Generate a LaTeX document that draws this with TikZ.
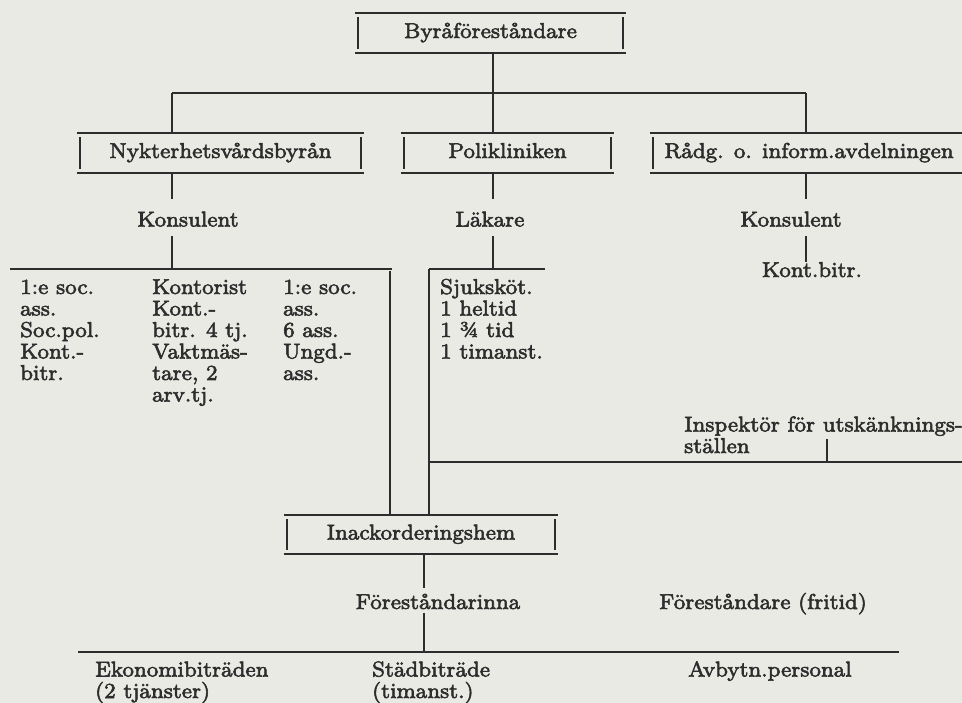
\documentclass[tikz,border=0pt]{standalone}
\usepackage{fontspec}
\setmainfont{lmroman8-regular.otf}[FakeStretch=1.01, FakeBold=2.5]
\usetikzlibrary{calc}

\definecolor{paper}{RGB}{234,234,229}
\definecolor{ink}{RGB}{45,45,45}

\tikzset{
  rule/.style={line width=1.7pt, draw=ink, line cap=butt},
  bar/.style={line width=1.9pt, draw=ink},
  unitbox/.style={inner sep=0pt, text height=12pt, text depth=2pt, text=ink,
    font=\fontsize{21.5}{21.5}\selectfont, anchor=center},
  lbl/.style={inner sep=0pt, text height=14pt, text depth=4pt, text=ink,
    font=\fontsize{21.5}{21.5}\selectfont, anchor=base},
  lblw/.style={lbl, anchor=base west},
}

% top and bottom rules across the box, short bars inside the ends
\newcommand\boxrules[1]{%
  \draw[rule] (#1.north west) -- (#1.north east)
              (#1.south west) -- (#1.south east);
  \draw[bar] ([xshift=3pt,yshift=-4pt]#1.north west) -- ([xshift=3pt,yshift=4pt]#1.south west);
  \draw[bar] ([xshift=-3pt,yshift=-4pt]#1.north east) -- ([xshift=-3pt,yshift=4pt]#1.south east);
}

\begin{document}
\begin{tikzpicture}[x=1pt,y=-1pt]
\useasboundingbox (0,0) rectangle (962,703);
\fill[paper] (0,0) rectangle (962,703);
\clip (0,0) rectangle (962,703);

% ---- head of the bureau
\node[unitbox, minimum width=271pt, minimum height=40pt] (byra) at (490.5,33) {Byråföreståndare};
\boxrules{byra}

% ---- the three units
\node[unitbox, minimum width=287pt, minimum height=40pt] (nyk) at (220.5,153) {Nykterhetsvårdsbyrån};
\node[unitbox, minimum width=213pt, minimum height=40pt] (poli) at (507.5,153) {Polikliniken};
\node[unitbox, minimum width=318pt, minimum height=40pt] (radg) at (809,153) {Rådg. o. inform.avdelningen};
\boxrules{nyk}
\boxrules{poli}
\boxrules{radg}

\coordinate (busL) at (172,93);
\coordinate (busM) at (493,93);
\coordinate (busR) at (806,93);
\draw[rule] (byra.south -| busM) -- (poli.north -| busM);
\draw[rule] (busL) -- (busR);
\draw[rule] (busL) -- (nyk.north -| busL);
\draw[rule] (busR) -- (radg.north -| busR);

% ---- Nykterhetsvårdsbyrån
\node[lbl] (konsA) at (188,226.5) {Konsulent};
\draw[rule] (nyk.south -| busL) -- ($(konsA.north -| busL)+(0,-13.5)$);
\coordinate (nykM) at (172,269);
\coordinate (nykL) at (10,269);
\coordinate (nykR) at (392,269);
\draw[rule] ($(konsA.south -| busL)+(0,5.5)$) -- (nykM);
\draw[rule] (nykL) -- (nykR);

\node[lblw] (c1a) at (20,294)   {1:e soc.};
\node[lblw] (c1b) at (20,315.5) {ass.};
\node[lblw] (c1c) at (20,337)   {Soc.pol.};
\node[lblw] (c1d) at (20,358.5) {Kont.-};
\node[lblw] (c1e) at (20,380)   {bitr.};

\node[lblw] (c2a) at (152,294)   {Kontorist};
\node[lblw] (c2b) at (152,315.5) {Kont.-};
\node[lblw] (c2c) at (152,337)   {bitr. 4 tj.};
\node[lblw] (c2d) at (152,358.5) {Vaktmäs-};
\node[lblw] (c2e) at (152,380)   {tare, 2};
\node[lblw] (c2f) at (152,401.5) {arv.tj.};

\node[lblw] (c3a) at (283,294)   {1:e soc.};
\node[lblw] (c3b) at (283,315.5) {ass.};
\node[lblw] (c3c) at (283,337)   {6 ass.};
\node[lblw] (c3d) at (283,358.5) {Ungd.-};
\node[lblw] (c3e) at (283,380)   {ass.};

% ---- Polikliniken
\node[lbl] (lak) at (490,226.5) {Läkare};
\draw[rule] (poli.south -| busM) -- ($(lak.north -| busM)+(0,-13.5)$);
\coordinate (polM) at (493,269);
\coordinate (polL) at (429,269);
\coordinate (polR) at (545,269);
\draw[rule] ($(lak.south -| busM)+(0,5.5)$) -- (polM);
\draw[rule] (polL) -- (polR);

\node[lblw] (s1) at (440,294)   {Sjuksköt.};
\node[lblw] (s2) at (440,315.5) {1 heltid};
\node[lblw] (s3) at (440,337)   {1 ¾ tid};
\node[lblw] (s4) at (440,358.5) {1 timanst.};

% ---- Rådg. o. inform.avdelningen
\node[lbl] (konsC) at (791,226.5) {Konsulent};
\node[lbl] (kontb) at (812,277) {Kont.bitr.};
\draw[rule] (radg.south -| busR) -- ($(konsC.north -| busR)+(0,-13.5)$);
\draw[rule] ($(konsC.south -| busR)+(0,5.5)$) -- ($(kontb.north -| busR)+(0,-1)$);

% ---- inspector of licensed premises
\node[lblw] (insp) at (684,431.5) {Inspektör för utskänknings-};
\node[lblw] (insp2) at (684,453) {ställen};
\coordinate (inspJ) at (827,462);
\coordinate (inspL) at (429,462);
\coordinate (inspE) at (962,462);
\draw[rule] ($(insp.south -| inspJ)+(0,3)$) -- (inspJ);
\draw[rule] (inspL) -- (inspE);

% ---- boarding home
\node[unitbox, minimum width=274pt, minimum height=39pt] (inack) at (421,534.5) {Inackorderingshem};
\boxrules{inack}
\coordinate (dropA) at (390,271);
\draw[rule] (dropA) -- (inack.north -| dropA);
\draw[rule] (polL) -- (inack.north -| polL);

\node[lbl] (fst) at (438,609) {Föreståndarinna};
\node[lbl] (fritid) at (763,609) {Föreståndare (fritid)};
\coordinate (botM) at (424,652);
\coordinate (botL) at (78,652);
\coordinate (botR) at (899,652);
\draw[rule] (inack.south -| botM) -- ($(fst.north -| botM)+(0,-7)$);
\draw[rule] (fst.south -| botM) -- (botM);
\draw[rule] (botL) -- (botR);

\node[lblw] (eko) at (95,676.5) {Ekonomibiträden};
\node[lblw] (eko2) at (95,698) {(2 tjänster)};
\node[lblw] (stad) at (372,676.5) {Städbiträde};
\node[lblw] (stad2) at (372,698) {(timanst.)};
\node[lblw] (avb) at (688,676.5) {Avbytn.personal};
\end{tikzpicture}
\end{document}
